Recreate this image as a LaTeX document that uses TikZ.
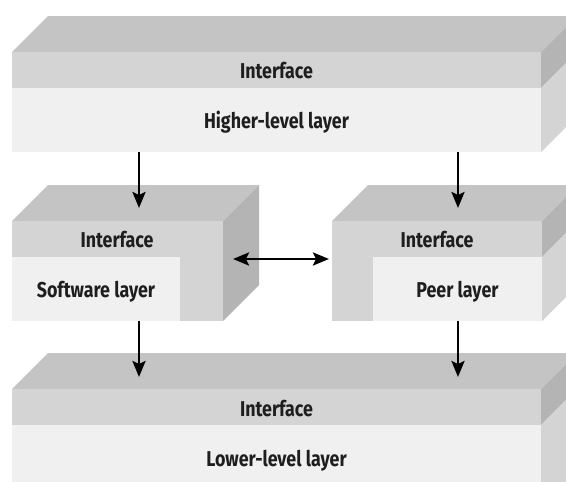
\documentclass[tikz,border=0pt]{standalone}
\usepackage{fontspec}
\setmainfont{Fira Sans}[FakeStretch=0.83]
\usetikzlibrary{arrows.meta}
\definecolor{topgray}{HTML}{C4C4C4}
\definecolor{ifgray}{HTML}{D4D4D4}
\definecolor{sidegray}{HTML}{B4B4B4}
\definecolor{layergray}{HTML}{F0F0F0}
\definecolor{txtgray}{HTML}{1E1E1E}
\begin{document}
\begin{tikzpicture}[x=1pt,y=-1pt,font=\bfseries\fontsize{21.5}{25}\selectfont,line join=round,>={Stealth[length=16pt,width=13pt,inset=3pt]}]
	\tikzset{
		topface/.style={fill=topgray},
		ifface/.style={fill=ifgray},
		sideface/.style={fill=sidegray},
		layerface/.style={fill=layergray},
		lbl/.style={text=txtgray,inner sep=0pt,anchor=base},
		link/.style={line width=2.6pt,black}
	}
	\clip (0,0) rectangle (566,482);
	% higher-level layer
	\fill[topface] (12,52) -- (48,16) -- (577,16) -- (541,52) -- cycle;
	\fill[ifface] (12,52) rectangle (541,88);
	\fill[layerface] (12,88) rectangle (541,152);
	\fill[sideface] (541,52) -- (577,16) -- (577,52) -- (541,88) -- cycle;
	\fill[ifface] (541,88) -- (577,52) -- (577,116) -- (541,152) -- cycle;
	\node[lbl] (hiif) at (276.5,78.5) {Interface};
	\node[lbl] (hilayer) at (276.5,128.5) {Higher-level layer};
	% software layer
	\fill[topface] (12,221) -- (48,185) -- (259,185) -- (223,221) -- cycle;
	\fill[ifface] (12,221) rectangle (223,321);
	\fill[layerface] (12,257) rectangle (180,321);
	\fill[sideface] (223,221) -- (259,185) -- (259,285) -- (223,321) -- cycle;
	\node[lbl] (swif) at (117,247) {Interface};
	\node[lbl] (swlayer) at (96,297) {Software layer};
	% peer layer
	\fill[topface] (332,221) -- (368,185) -- (578,185) -- (542,221) -- cycle;
	\fill[ifface] (332,221) rectangle (542,321);
	\fill[layerface] (373,257) rectangle (542,321);
	\fill[sideface] (542,221) -- (578,185) -- (578,221) -- (542,257) -- cycle;
	\fill[ifface] (542,257) -- (578,221) -- (578,285) -- (542,321) -- cycle;
	\node[lbl] (peif) at (437,247) {Interface};
	\node[lbl] (pelayer) at (457.5,297) {Peer layer};
	% lower-level layer
	\fill[topface] (12,389) -- (48,353) -- (577,353) -- (541,389) -- cycle;
	\fill[ifface] (12,389) rectangle (541,425);
	\fill[layerface] (12,425) rectangle (541,500);
	\fill[sideface] (541,389) -- (577,353) -- (577,389) -- (541,425) -- cycle;
	\fill[ifface] (541,425) -- (577,389) -- (577,500) -- (541,536) -- cycle;
	\node[lbl] (loif) at (276.5,416) {Interface};
	\node[lbl] (lolayer) at (276.5,466) {Lower-level layer};
	% arrow ends
	\coordinate (hi-l) at (139,152);
	\coordinate (hi-r) at (458,152);
	\coordinate (sw-in) at (139,208);
	\coordinate (pe-in) at (458,208);
	\coordinate (sw-out) at (139,321);
	\coordinate (pe-out) at (458,321);
	\coordinate (lo-l) at (139,377);
	\coordinate (lo-r) at (458,377);
	\coordinate (sw-side) at (233,259);
	\coordinate (pe-side) at (329,259);
	\draw[link,->] (hi-l) -- (sw-in);
	\draw[link,->] (hi-r) -- (pe-in);
	\draw[link,->] (sw-out) -- (lo-l);
	\draw[link,->] (pe-out) -- (lo-r);
	\draw[link,<->] (sw-side) -- (pe-side);
\end{tikzpicture}
\end{document}
